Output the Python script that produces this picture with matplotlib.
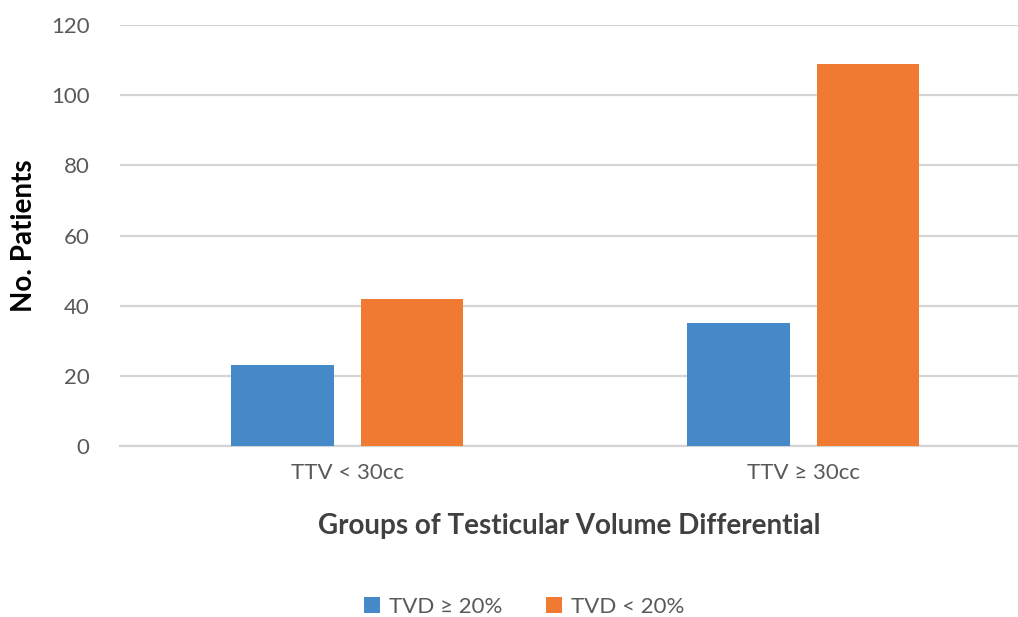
import numpy as np
import matplotlib
matplotlib.use("Agg")
import matplotlib.pyplot as plt

plt.rcParams['font.family'] = ['Lato', 'DejaVu Sans']

groups = ['TTV < 30cc', 'TTV ≥ 30cc']
series_names = ['TVD ≥ 20%', 'TVD < 20%']
tvd_high = [23, 35]
tvd_low = [42, 109]
colors = ['#4589C8', '#F07A32']
y_ticks = [0, 20, 40, 60, 80, 100, 120]

fig = plt.figure(figsize=(10.18, 6.17), dpi=100)
ax = fig.add_axes([0.118, 0.2771, 0.882, 0.6824])

x = np.arange(len(groups))
width = 0.224
offset = 0.142
ax.bar(x - offset, tvd_high, width, color=colors[0], label=series_names[0], zorder=3)
ax.bar(x + offset, tvd_low, width, color=colors[1], label=series_names[1], zorder=3)

ax.set_xlim(-0.498, 1.471)
ax.set_ylim(0, 120)
ax.set_yticks(y_ticks)
ax.set_xticks(x)
ax.set_xticklabels(groups)
ax.grid(axis='y', color='#d4d4d4', linewidth=1.6, zorder=0)
ax.tick_params(axis='both', length=0, labelsize=16, labelcolor='#595959')
ax.tick_params(axis='y', pad=22)
ax.tick_params(axis='x', pad=12)
for s in ['top', 'right', 'left']:
    ax.spines[s].set_visible(False)
ax.spines['bottom'].set_color('#d4d4d4')
ax.spines['bottom'].set_linewidth(1.6)

ax.set_ylabel('No. Patients', fontsize=20, fontweight='bold', color='black', labelpad=10)
ax.set_xlabel('Groups of Testicular Volume Differential', fontsize=20,
              fontweight='bold', color='#404040', labelpad=22)

fig.legend(loc='center', bbox_to_anchor=(0.515, 0.017), ncol=2, frameon=False,
           fontsize=16, handlelength=0.7, handleheight=0.7, handletextpad=0.4,
           columnspacing=2.0, labelcolor='#595959')

plt.savefig('out.png', dpi=100)
